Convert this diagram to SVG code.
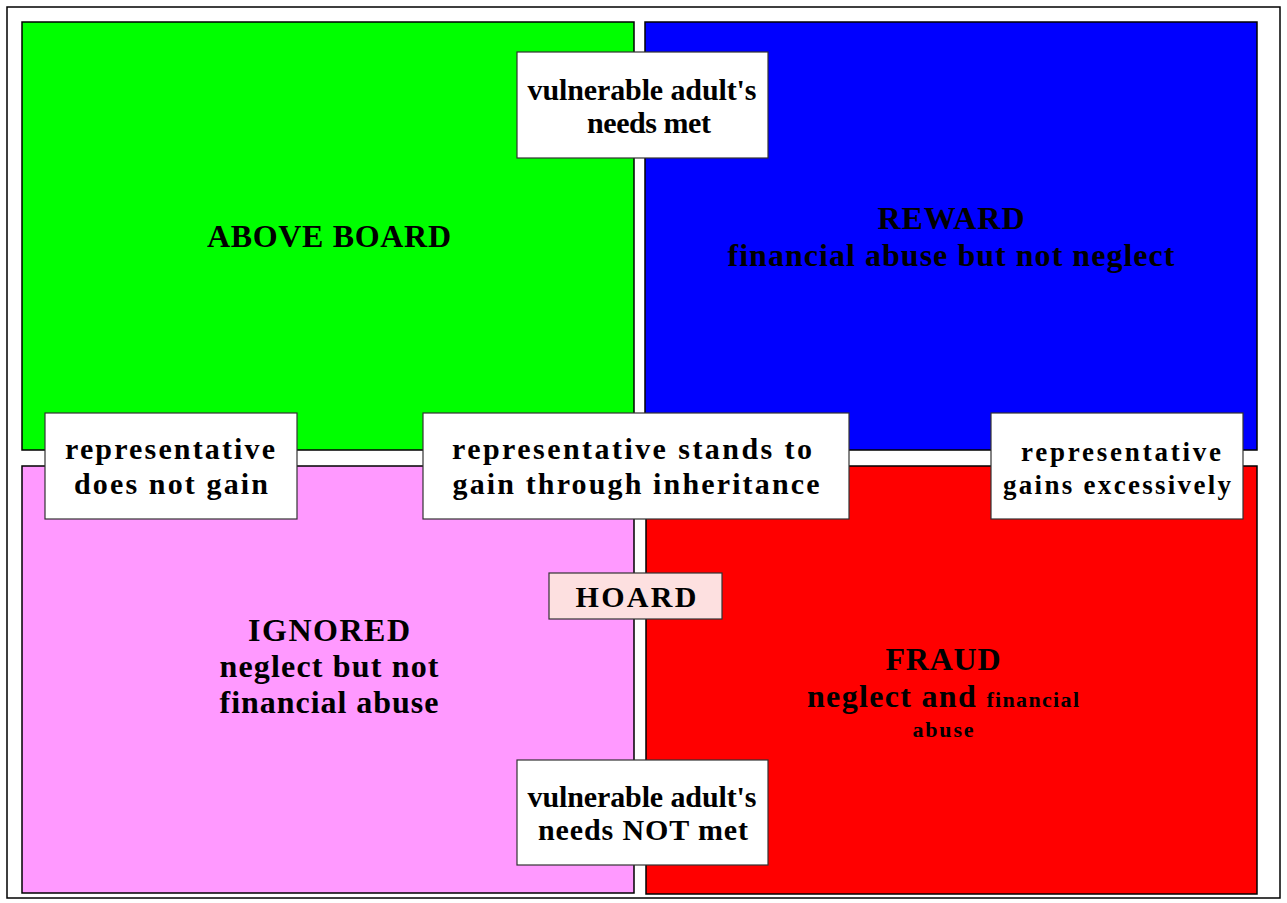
<svg xmlns="http://www.w3.org/2000/svg" width="1287" height="903" viewBox="0 0 1287 903">
<style>
.q{stroke:#000;stroke-width:1.5}
.b{fill:#fff;stroke:#333;stroke-width:1.2}
text{font-family:"Liberation Serif","Times New Roman",serif;font-weight:bold;fill:#000;text-anchor:middle}
.big{font-size:32px}
.lbl{font-size:30px}
</style>
<rect width="1287" height="903" fill="#fff"/>
<rect x="7" y="7" width="1273" height="891" fill="#fff" stroke="#000" stroke-width="1.5"/>
<g id="above-board">
<rect class="q" x="22" y="22" width="612" height="428" fill="#00ff00"/>
<text class="big" x="329" y="247" textLength="244" lengthAdjust="spacing">ABOVE BOARD</text>
</g>
<g id="reward">
<rect class="q" x="645" y="22" width="612" height="428" fill="#0000ff"/>
<text class="big" x="951" y="229" textLength="147" lengthAdjust="spacing">REWARD</text>
<text class="big" x="951" y="266" textLength="447" lengthAdjust="spacing">financial abuse but not neglect</text>
</g>
<g id="ignored">
<rect class="q" x="22" y="466" width="612" height="427" fill="#ff99ff"/>
<text class="big" x="329" y="641" textLength="162" lengthAdjust="spacing">IGNORED</text>
<text class="big" x="329" y="677" textLength="219" lengthAdjust="spacing">neglect but not</text>
<text class="big" x="329" y="713" textLength="219" lengthAdjust="spacing">financial abuse</text>
</g>
<g id="fraud">
<rect class="q" x="646" y="466" width="611" height="428" fill="#ff0000"/>
<text class="big" x="943" y="670" textLength="115" lengthAdjust="spacing">FRAUD</text>
<text x="943" y="707" textLength="272" lengthAdjust="spacing"><tspan class="big">neglect and </tspan><tspan font-size="22px">financial</tspan></text>
<text x="943" y="737" font-size="22px" textLength="61" lengthAdjust="spacing">abuse</text>
</g>
<g id="connectors"></g>
<g id="needs-met">
<rect class="b" x="517" y="52" width="251" height="106"/>
<text class="lbl" x="642" y="100" textLength="229" lengthAdjust="spacing">vulnerable adult's</text>
<text class="lbl" x="649" y="133" textLength="124" lengthAdjust="spacing">needs met</text>
</g>
<g id="does-not-gain">
<rect class="b" x="45" y="413" width="252" height="106"/>
<text class="lbl" x="170" y="459" textLength="210" lengthAdjust="spacing">representative</text>
<text class="lbl" x="171" y="494" textLength="194" lengthAdjust="spacing">does not gain</text>
</g>
<g id="inheritance">
<rect class="b" x="423" y="413" width="426" height="106"/>
<text class="lbl" x="632" y="459" textLength="360" lengthAdjust="spacing">representative stands to</text>
<text class="lbl" x="636" y="494" textLength="367" lengthAdjust="spacing">gain through inheritance</text>
</g>
<g id="gains-excessively">
<rect class="b" x="991" y="413" width="252" height="106"/>
<text x="1121" y="461" font-size="27px" textLength="200" lengthAdjust="spacing">representative</text>
<text x="1117" y="494" font-size="27px" textLength="228" lengthAdjust="spacing">gains excessively</text>
</g>
<g id="hoard">
<rect x="549" y="573" width="173" height="46" fill="#fde0e0" stroke="#333" stroke-width="1.2"/>
<text x="636" y="607" font-size="30px" textLength="121" lengthAdjust="spacing">HOARD</text>
</g>
<g id="needs-not-met">
<rect class="b" x="517" y="760" width="251" height="105"/>
<text class="lbl" x="642" y="807" textLength="229" lengthAdjust="spacing">vulnerable adult's</text>
<text class="lbl" x="643" y="840" textLength="210" lengthAdjust="spacing">needs NOT met</text>
</g>
</svg>
